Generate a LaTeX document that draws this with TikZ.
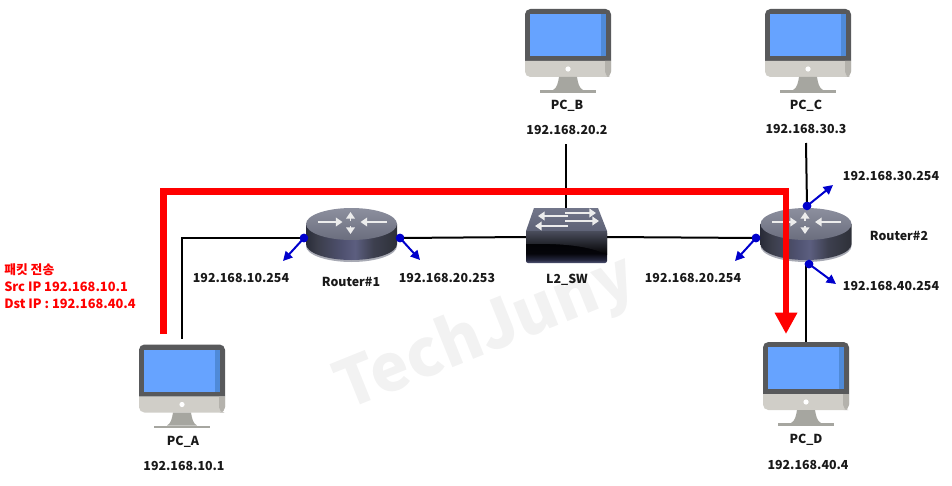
\documentclass[tikz,border=0pt]{standalone}
\usepackage{fontspec}
\setmainfont{Noto Sans CJK KR}
\usetikzlibrary{arrows.meta,calc}
\definecolor{bezel}{HTML}{58595B}
\definecolor{scr}{HTML}{66A3FF}
\definecolor{scrd}{HTML}{4F8AD8}
\definecolor{chin}{HTML}{D0CEC8}
\definecolor{chind}{HTML}{B4B2AC}
\definecolor{stand}{HTML}{A6A6A0}
\definecolor{portblue}{HTML}{0000CC}
\definecolor{mark}{HTML}{F2F2F2}
\definecolor{rtoptop}{HTML}{8C8F9E}
\definecolor{rtopbot}{HTML}{6B6E7E}
\definecolor{rrim}{HTML}{A8AAB4}
\definecolor{swtopa}{HTML}{72768A}
\definecolor{swtopb}{HTML}{5E6276}
\definecolor{swband}{HTML}{4A4D5C}
\pgfdeclarehorizontalshading{rbody}{100bp}{rgb(0bp)=(0.16,0.17,0.22);rgb(25bp)=(0.16,0.17,0.22);rgb(31bp)=(0.23,0.24,0.29);rgb(45bp)=(0.31,0.32,0.44);rgb(52bp)=(0.36,0.37,0.50);rgb(62bp)=(0.24,0.25,0.31);rgb(75bp)=(0.18,0.19,0.22);rgb(100bp)=(0.18,0.19,0.22)}
\pgfdeclareverticalshading{swbody}{100bp}{rgb(0bp)=(0.32,0.34,0.46);rgb(25bp)=(0.32,0.34,0.46);rgb(30bp)=(0.14,0.15,0.24);rgb(40bp)=(0.02,0.02,0.04);rgb(75bp)=(0,0,0);rgb(100bp)=(0,0,0)}
\tikzset{
  wire/.style={draw=black,line width=1.5pt},
  redpath/.style={draw=red,line width=5pt},
  portdot/.style={circle,fill=portblue,inner sep=0pt,minimum size=6.4pt},
  portarrow/.style={draw=portblue,line width=1.5pt,-{Triangle[length=7pt,width=7pt]}},
  lab/.style={font=\fontsize{9.3pt}{12pt}\selectfont\bfseries,text=black!90,inner sep=0pt},
  whitearr/.style={draw=white!85!gray,line width=1.2pt,-{Triangle[length=5pt,width=6.5pt]}},
  monitor/.pic={
    \fill[bezel] (0,52) [rounded corners=4pt] -- (0,0) -- (86,0) [sharp corners] -- (86,52) -- cycle;
    \fill[scr] (5,5) rectangle (76,47);
    \fill[scrd] (76,5) rectangle (81,47);
    \fill[chin] (0,52) [rounded corners=4pt] -- (0,68) -- (86,68) [sharp corners] -- (86,52) -- cycle;
    \fill[chind] (80,52) [rounded corners=4pt] -- (80,68) -- (86,68) [sharp corners] -- (86,52) -- cycle;
    \fill[white] (43,60) circle[radius=2.6];
    \fill[stand] (34,68) -- (52,68) .. controls (53,74) and (54,79) .. (58,81) -- (28,81) .. controls (32,79) and (33,74) .. (34,68) -- cycle;
    \fill[stand] (15,81) rectangle (71,83.5);
    \coordinate (-port) at (43,-6);
  },
  routerbox/.pic={
    \fill[rrim] (-45.5,20) -- (-45.5,22) arc[start angle=180,end angle=0,x radius=45.5,y radius=16] -- (45.5,20) -- cycle;
    \shade[shading=rbody] (-45.5,0) -- (-45.5,20) arc[start angle=180,end angle=0,x radius=45.5,y radius=16] -- (45.5,0) -- cycle;
    \shade[top color=rtoptop,bottom color=rtopbot] (0,0) ellipse[x radius=45.5,y radius=16];
    \draw[whitearr] (-34,-2) -- (-9,-2);
    \draw[whitearr] (35,-2) -- (9,-2);
    \draw[whitearr] (-1,-3) -- (-1,-12);
    \draw[whitearr] (-1,2) -- (-1,10);
  },
  switchbox/.pic={
    \shade[top color=swtopa,bottom color=swtopb] (-32,0) -- (32,0) -- (41,23) -- (-40,23) -- cycle;
    \shade[shading=swbody,rounded corners=1.5pt] (-40,23) rectangle (41,55);
    \shade[top color=swband,bottom color=black] (-40,23) -- (-40,36) .. controls (-5,35) and (25,38) .. (41,47) -- (41,23) -- cycle;
    \draw[whitearr] (-1,5) -- (30,5);
    \draw[whitearr] (2,8) -- (-28,8);
    \draw[whitearr] (-1,13) -- (33,13);
    \draw[whitearr] (2,18) -- (-31,18);
  }
}
\begin{document}
\begin{tikzpicture}[x=0.75pt,y=-0.75pt]
\useasboundingbox (0,0) rectangle (952,485);
% watermark
\node[rotate=22,text=mark,inner sep=0pt,font=\fontsize{49pt}{58pt}\selectfont\bfseries] (wm) at (486,334) {TechJuny};
% anchors
\coordinate (r1c) at (351.5,224);
\coordinate (r2c) at (806,224);
\coordinate (swc) at (566,208);
\node[portdot] (r1l) at (304,238) {};
\node[portdot] (r1r) at (400,238) {};
\node[portdot] (r2l) at (756,238) {};
\node[portdot] (r2t) at (807,206) {};
\node[portdot] (r2b) at (809,264) {};
\coordinate (swtop) at (566,208);
\coordinate (swleft) at (526,237);
\coordinate (swright) at (607,237);
\coordinate (bfree) at (566,144);
\coordinate (cfree) at (806,143);
% monitors
\pic (pca) at (139,344.5) {monitor};
\pic (pcb) at (525,9) {monitor};
\pic (pcc) at (765,9) {monitor};
\pic (pcd) at (763,342) {monitor};
% wires
\draw[wire] (pca-port) |- (r1l.center);
\draw[wire] (r1r.center) -- (swleft);
\draw[wire] (swright) -- (r2l.center);
\draw[wire] (bfree) -- (swtop);
\draw[wire] (cfree) -- (r2t.center);
\draw[wire] (r2b.center -| cfree) -- ($(pcd-port)+(0,6)$);
% devices
\pic at (r1c) {routerbox};
\pic at (r2c) {routerbox};
\pic at (swc) {switchbox};
% ports
\node[portdot] at (r1l) {};
\node[portdot] at (r1r) {};
\node[portdot] at (r2l) {};
\node[portdot] at (r2t) {};
\node[portdot] at (r2b) {};
\coordinate (a1) at (283,261);
\coordinate (a2) at (420,260);
\coordinate (a3) at (735,261);
\coordinate (a4) at (833,185);
\coordinate (a5) at (836,284);
\draw[portarrow] (r1l.center) -- (a1);
\draw[portarrow] (r1r.center) -- (a2);
\draw[portarrow] (r2l.center) -- (a3);
\draw[portarrow] (r2t.center) -- (a4);
\draw[portarrow] (r2b.center) -- (a5);
% red path
\coordinate (rs) at (163.5,334);
\coordinate (re) at (786,334);
\draw[redpath,-{Triangle[length=16pt,width=16pt,inset=0pt]}] (rs) -- (163.5,191.5) -- (786,191.5) -- (re);
% labels
\node[lab] (lpca) at (183,442) {PC\_A};
\node[lab] (ipa) at (184,466) {192.168.10.1};
\node[lab] (lpcb) at (567,106) {PC\_B};
\node[lab] (ipb) at (567,130) {192.168.20.2};
\node[lab] (lpcc) at (806,106) {PC\_C};
\node[lab] (ipc) at (806,129) {192.168.30.3};
\node[lab] (lpcd) at (806,440) {PC\_D};
\node[lab] (ipd) at (808,465) {192.168.40.4};
\node[lab] (i1) at (891,176) {192.168.30.254};
\node[lab] (lr2) at (899,236) {Router\#2};
\node[lab] (i2) at (891,286) {192.168.40.254};
\node[lab] (i3) at (693,278) {192.168.20.254};
\node[lab] (lsw) at (567,280) {L2\_SW};
\node[lab] (lr1) at (351,282) {Router\#1};
\node[lab] (i4) at (447,278) {192.168.20.253};
\node[lab] (i5) at (241,278) {192.168.10.254};
\node[lab,text=red,anchor=north west,align=left,font=\fontsize{9.6pt}{12.75pt}\selectfont\bfseries] (pkt) at (4,263) {패킷 전송\\Src IP 192.168.10.1\\Dst IP : 192.168.40.4};
\end{tikzpicture}
\end{document}
